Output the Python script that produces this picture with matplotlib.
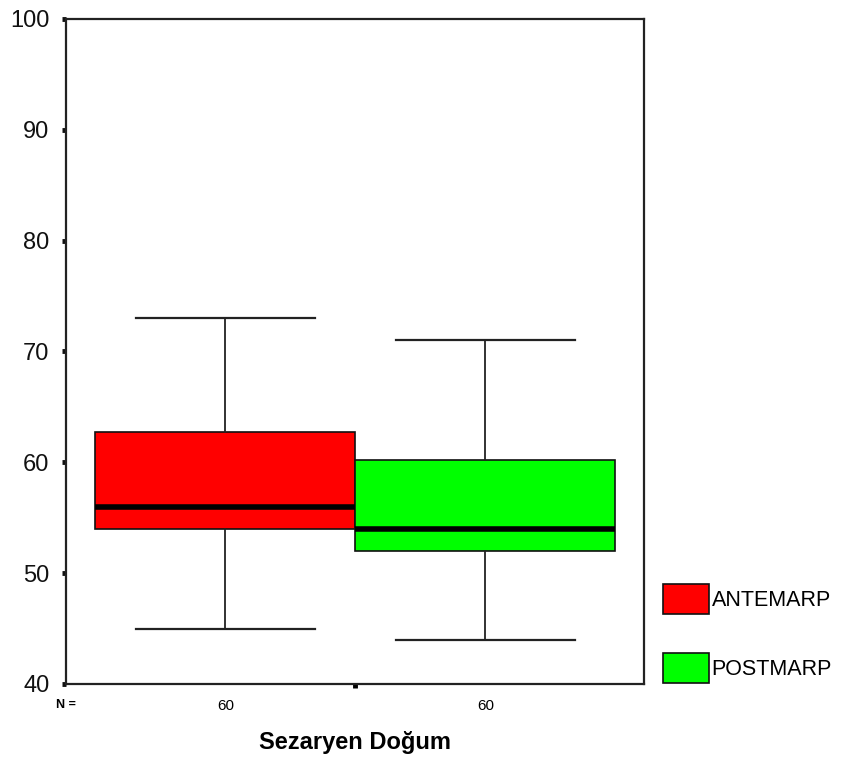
import matplotlib
matplotlib.use("Agg")
import matplotlib.pyplot as plt
from matplotlib.patches import Patch
from matplotlib.transforms import blended_transform_factory

plt.rcParams['font.family'] = ['Liberation Sans', 'DejaVu Sans']

groups = ["ANTEMARP", "POSTMARP"]
colors = ["#ff0000", "#00ff00"]
whislo = [45, 44]
q1 = [54, 52]
med = [56, 54]
q3 = [62.7, 60.2]
whishi = [73, 71]
n_counts = [60, 60]
y_ticks = [40, 50, 60, 70, 80, 90, 100]
xlabel = "Sezaryen Doğum"

fig = plt.figure(figsize=(8.43, 7.58), dpi=100)
ax = fig.add_axes([66/843, 74/758, (644-66)/843, (684-19)/758])

stats = []
for i, g in enumerate(groups):
    stats.append(dict(label=g, whislo=whislo[i], q1=q1[i], med=med[i],
                      q3=q3[i], whishi=whishi[i], fliers=[]))

positions = list(range(len(groups)))
bp = ax.bxp(stats, positions=positions, widths=1.0, capwidths=0.69,
            patch_artist=True, showfliers=False,
            boxprops=dict(linewidth=1.2, edgecolor='#111111'),
            whiskerprops=dict(linewidth=1.3, color='#222222'),
            capprops=dict(linewidth=1.6, color='#222222'),
            medianprops=dict(linewidth=4, color='#000000', solid_capstyle='butt'))
for patch, c in zip(bp['boxes'], colors):
    patch.set_facecolor(c)

ax.set_xlim(-0.613, 1.61)
ax.set_ylim(40, 100)
ax.set_yticks(y_ticks)
ax.set_yticklabels([str(t) for t in y_ticks])
ax.tick_params(axis='y', direction='out', length=3, width=3.5, pad=9,
               labelsize=17, colors='#111111')

ax.set_xticks(positions)
ax.set_xticklabels([str(n) for n in n_counts])
ax.tick_params(axis='x', length=0, pad=11, labelsize=11)
ax.set_xticks([0.5], minor=True)
ax.tick_params(axis='x', which='minor', direction='out', length=3, width=3.5)

for s in ax.spines.values():
    s.set_linewidth(1.6)
    s.set_color('#222222')

trans = blended_transform_factory(ax.transAxes, ax.transAxes)
ax.text(0.0, -0.031, "N =", transform=trans, ha='center', va='center',
        fontsize=9, fontweight='bold')

ax.set_xlabel(xlabel, fontsize=17, fontweight='bold', labelpad=13)

handles = [Patch(facecolor=c, edgecolor='#111111', linewidth=1.2, label=g)
           for g, c in zip(groups, colors)]
fig.legend(handles=handles, loc='upper left',
           bbox_to_anchor=(654/843, 1 - 575/758), frameon=False,
           fontsize=15.5, handlelength=2.15, handleheight=1.8,
           handletextpad=0.12, labelspacing=1.8, borderaxespad=0)

fig.savefig("out.png", dpi=100)
